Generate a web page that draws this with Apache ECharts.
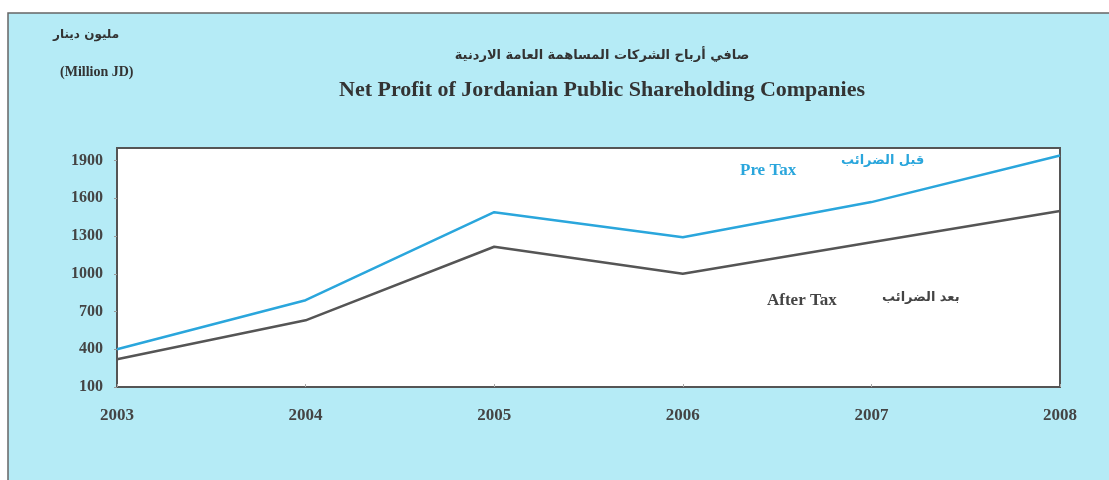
<!DOCTYPE html>
<html>
<head>
<meta charset="utf-8">
<script src="https://cdn.jsdelivr.net/npm/echarts@6/dist/echarts.min.js"></script>
<style>
  html, body { margin: 0; padding: 0; background: #fff; }
  #chart { width: 1109px; height: 480px; }
</style>
</head>
<body>
<div id="chart"></div>
<script>
// years on the x axis
const years = ['2003', '2004', '2005', '2006', '2007', '2008'];
// net profit, million JD
const preTax = [400, 790, 1490, 1290, 1570, 1940];
const afterTax = [320, 630, 1215, 1000, 1250, 1500];

const serif = '"Liberation Serif", "Times New Roman", serif';
const arabic = '"DejaVu Sans", sans-serif';

const chart = echarts.init(document.getElementById('chart'));

const option = {
  backgroundColor: '#fff',
  animation: false,
  title: [
    {
      text: 'صافي أرباح الشركات المساهمة العامة الاردنية',
      left: 597, top: 44, textAlign: 'center',
      textStyle: { fontFamily: arabic, fontSize: 13, fontWeight: 'bold', color: '#333' }
    },
    {
      text: 'Net Profit of Jordanian Public Shareholding Companies',
      left: 597, top: 74, textAlign: 'center',
      textStyle: { fontFamily: serif, fontSize: 22, fontWeight: 'bold', color: '#333' }
    }
  ],
  graphic: [
    {
      type: 'rect', z: -10,
      shape: { x: 8, y: 13, width: 1120, height: 480 },
      style: { fill: '#b5ebf6', stroke: '#666', lineWidth: 1.5 }
    },
    { type: 'text', left: 53, top: 29,
      style: { text: 'مليون دينار', font: 'bold 12px ' + arabic, fill: '#333' } },
    { type: 'text', left: 60, top: 65,
      style: { text: '(Million JD)', font: 'bold 14px ' + serif, fill: '#333' } },
    { type: 'text', left: 740, top: 162,
      style: { text: 'Pre Tax', font: 'bold 17px ' + serif, fill: '#2aa6dc' } },
    { type: 'text', left: 841, top: 154,
      style: { text: 'قبل الضرائب', font: 'bold 13px ' + arabic, fill: '#2aa6dc' } },
    { type: 'text', left: 767, top: 292,
      style: { text: 'After Tax', font: 'bold 17px ' + serif, fill: '#444' } },
    { type: 'text', left: 882, top: 291,
      style: { text: 'بعد الضرائب', font: 'bold 13px ' + arabic, fill: '#444' } }
  ],
  grid: {
    left: 117, right: 49, top: 148, bottom: 93,
    show: true, backgroundColor: '#fff', borderColor: '#555', borderWidth: 2
  },
  xAxis: {
    type: 'category',
    data: years,
    boundaryGap: false,
    axisLine: { show: false },
    axisTick: { show: true, inside: true, length: 3, lineStyle: { color: '#aaa' } },
    axisLabel: { margin: 20, fontFamily: serif, fontSize: 17, fontWeight: 'bold', color: '#444' },
    splitLine: { show: false }
  },
  yAxis: {
    type: 'value',
    min: 100, max: 2000, interval: 300,
    axisLine: { show: false },
    axisTick: { show: true, length: 3, lineStyle: { color: '#999' } },
    axisLabel: {
      showMaxLabel: false, margin: 14,
      fontFamily: serif, fontSize: 16, fontWeight: 'bold', color: '#444',
      formatter: function (v) { return String(v); }
    },
    splitLine: { show: false }
  },
  series: [
    {
      name: 'Pre Tax', type: 'line', data: preTax,
      symbol: 'none', lineStyle: { color: '#2aa6dc', width: 2.5 }
    },
    {
      name: 'After Tax', type: 'line', data: afterTax,
      symbol: 'none', lineStyle: { color: '#555', width: 2.5 }
    }
  ]
};

chart.setOption(option);
</script>
</body>
</html>
